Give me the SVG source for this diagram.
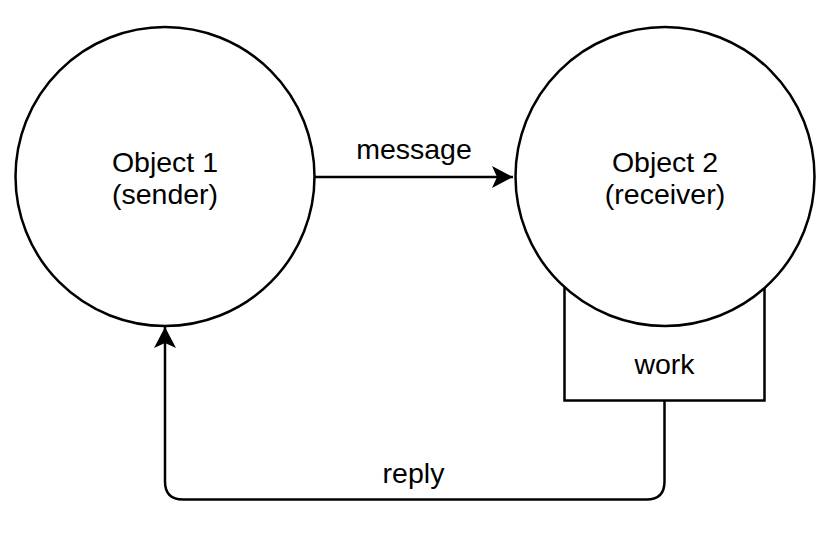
<svg xmlns="http://www.w3.org/2000/svg" width="833" height="539" viewBox="0 0 833 539">
  <style>
    .shape { fill: #ffffff; stroke: #000000; stroke-width: 2.5; }
    .edge { fill: none; stroke: #000000; stroke-width: 2.5; }
    text { font-family: "Liberation Sans", Arial, Helvetica, sans-serif; font-size: 28.5px; fill: #000000; text-anchor: middle; }
  </style>
  <defs>
    <marker id="arrow" markerUnits="userSpaceOnUse" markerWidth="24" markerHeight="24" viewBox="0 0 22 24" refX="21" refY="12" orient="auto">
      <path d="M21,12 L0,1 L5,12 L0,23 Z" fill="#000000"/>
    </marker>
  </defs>
  <rect width="833" height="539" fill="#ffffff"/>
  <g id="work">
    <rect class="shape" x="564.5" y="250" width="200" height="150.5"/>
    <text x="664.5" y="373.5">work</text>
  </g>
  <g id="object1">
    <circle class="shape" cx="165" cy="176.5" r="149.5"/>
    <text x="165" y="171.5">Object 1</text>
    <text x="165" y="204">(sender)</text>
  </g>
  <g id="object2">
    <circle class="shape" cx="665" cy="176.5" r="149.5"/>
    <text x="665" y="171.5">Object 2</text>
    <text x="665" y="204">(receiver)</text>
  </g>
  <g id="connectors">
    <path class="edge" d="M315,177 L513,177" marker-end="url(#arrow)"/>
    <text x="414" y="158.5">message</text>
    <path class="edge" d="M664.5,400.5 L664.5,481.5 Q664.5,499.5 646.5,499.5 L183,499.5 Q165,499.5 165,481.5 L165,327" marker-end="url(#arrow)"/>
    <text x="413.5" y="482.5">reply</text>
  </g>
</svg>
